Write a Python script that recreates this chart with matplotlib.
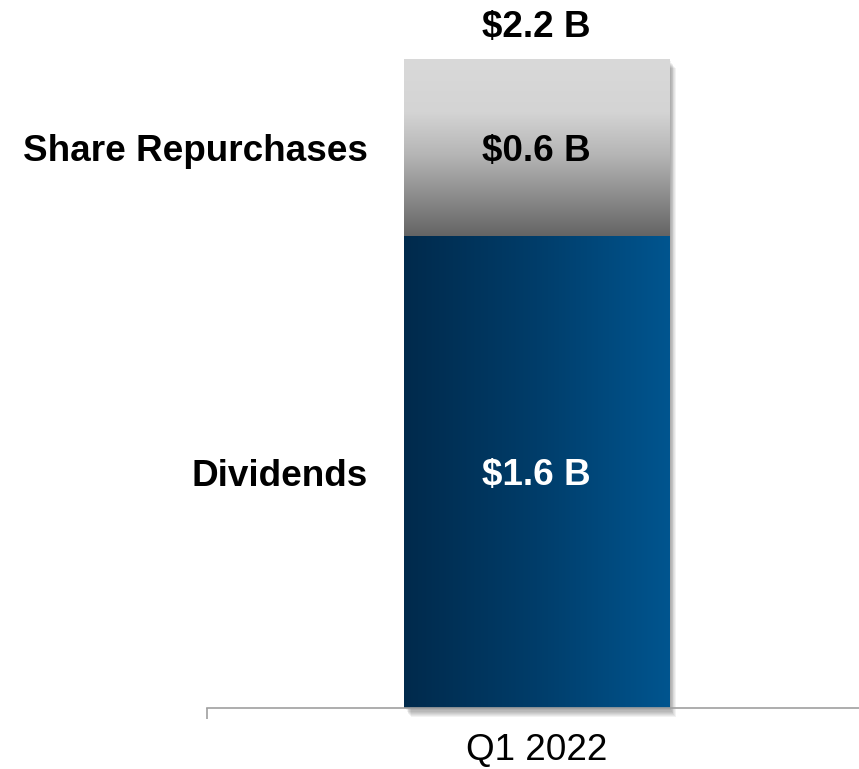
import numpy as np
import matplotlib.pyplot as plt
from matplotlib.colors import LinearSegmentedColormap
from matplotlib.patches import Rectangle

plt.rcParams['font.family'] = ['Liberation Sans', 'DejaVu Sans']

period = "Q1 2022"
segments = ["Dividends", "Share Repurchases"]
values = [1.6, 0.6]
value_labels = ["$1.6 B", "$0.6 B"]
total_label = "$2.2 B"

bar_x, bar_w = 0.0, 0.6
fs = 26.6

fig = plt.figure(figsize=(8.59, 7.69), dpi=100)
ax = fig.add_axes([207 / 859, 61 / 769, 652 / 859, 708 / 769])

blue = LinearSegmentedColormap.from_list("blue", ["#002a4c", "#003d6a", "#00558f"])
gray = LinearSegmentedColormap.from_list("gray", [(0, "#646464"), (0.45, "#b4b4b4"),
                                                  (0.7, "#d4d4d4"), (1, "#d9d9d9")])

x0, x1 = bar_x - bar_w / 2, bar_x + bar_w / 2
total = sum(values)

# soft shadow on the right and bottom
for i in range(8):
    dx = 0.002 * (i + 1)
    ax.add_patch(Rectangle((x0 + dx, -0.004 * (i + 1)), bar_w, total, facecolor="black",
                           alpha=0.05, edgecolor="none", zorder=1, clip_on=False))

# dividends: horizontal gradient
grad_h = np.linspace(0, 1, 256).reshape(1, -1)
ax.imshow(grad_h, cmap=blue, extent=[x0, x1, 0, values[0]], aspect="auto", zorder=2)
# repurchases: vertical gradient
grad_v = np.linspace(0, 1, 256).reshape(-1, 1)
ax.imshow(grad_v, cmap=gray, extent=[x0, x1, values[0], total], aspect="auto",
          origin="lower", zorder=2)
ax.set_xlim(-0.746, 0.730)
ax.set_ylim(0, 2.4)

bottoms = [0, values[0]]
colors = ["white", "black"]
for seg, v, b, lab, c in zip(segments, values, bottoms, value_labels, colors):
    mid = b + v / 2
    ax.annotate(lab, xy=(bar_x, mid), xytext=(0, -4), textcoords="offset pixels",
                ha="center", va="center", fontsize=fs, fontweight="bold", color=c, zorder=3)
    ax.annotate(seg, xy=(x0, mid), xytext=(-36, -4), textcoords="offset pixels",
                ha="right", va="center", fontsize=fs, fontweight="bold", color="black")

ax.annotate(total_label, xy=(bar_x, total), xytext=(0, 31), textcoords="offset pixels",
            ha="center", va="center", fontsize=fs, fontweight="bold", color="black")

for s in ["top", "right", "left"]:
    ax.spines[s].set_visible(False)
ax.spines["bottom"].set_color("#a0a0a0")
ax.spines["bottom"].set_linewidth(1.2)
ax.set_yticks([])
ax.set_xticks([bar_x])
ax.set_xticklabels([period], fontsize=fs)
ax.tick_params(axis="x", length=0, pad=18)
ax.set_xticks([-0.746], minor=True)
ax.tick_params(axis="x", which="minor", length=8, color="#a0a0a0", width=1.2)

fig.savefig("out.png", dpi=100)
